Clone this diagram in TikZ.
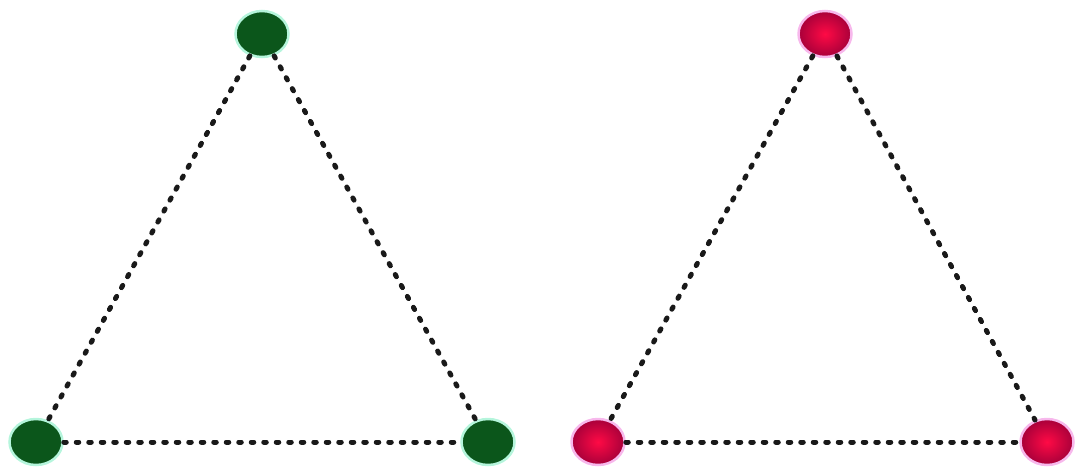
\documentclass[tikz,border=0pt]{standalone}
\usetikzlibrary{shapes.geometric}
\definecolor{gdark}{HTML}{0B561B}
\definecolor{gglow}{HTML}{B5F5DC}
\definecolor{rin}{HTML}{FF0A45}
\definecolor{rout}{HTML}{A8003A}
\definecolor{rglow}{HTML}{F7B8EC}
\tikzset{
  gnode/.style={ellipse, minimum width=53pt, minimum height=46pt, inner sep=0pt,
    fill=gdark, draw=gglow, line width=2.5pt},
  rnode/.style={ellipse, minimum width=53pt, minimum height=46pt, inner sep=0pt,
    inner color=rin, outer color=rout, draw=rglow, line width=2.5pt},
  link/.style={line width=5pt, dash pattern=on 2.5pt off 10pt, line cap=round, black!90}
}
\begin{document}
\begin{tikzpicture}[x=1pt,y=-1pt]
\useasboundingbox (0,0) rectangle (1075,468);
\node[gnode] (gt) at (262,34) {};
\node[gnode] (gl) at (36,442) {};
\node[gnode] (gr) at (488,442) {};
\node[rnode] (rt) at (825,34) {};
\node[rnode] (rl) at (598,442) {};
\node[rnode] (rr) at (1047,442) {};
\draw[link] (gt) -- (gl);
\draw[link] (gt) -- (gr);
\draw[link] (gl) -- (gr);
\draw[link] (rt) -- (rl);
\draw[link] (rt) -- (rr);
\draw[link] (rl) -- (rr);
\end{tikzpicture}
\end{document}
